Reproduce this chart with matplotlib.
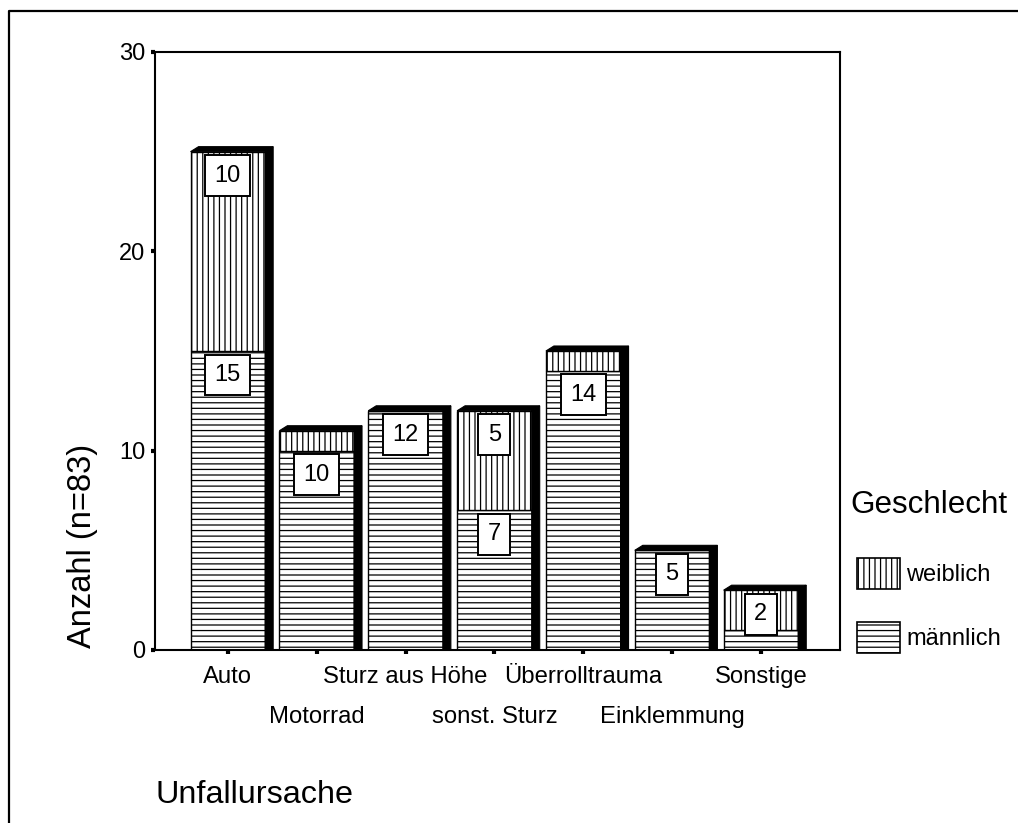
import matplotlib
matplotlib.use("Agg")
import matplotlib.pyplot as plt
from matplotlib.patches import Polygon, Rectangle
from matplotlib.lines import Line2D
import matplotlib.transforms as mtransforms

plt.rcParams['font.family'] = ['Liberation Sans', 'DejaVu Sans']
plt.rcParams['hatch.linewidth'] = 0.9

categories = ["Auto", "Motorrad", "Sturz aus Höhe", "sonst. Sturz",
              "Überrolltrauma", "Einklemmung", "Sonstige"]
maennlich = [15, 10, 12, 7, 14, 5, 1]
weiblich = [10, 1, 0, 5, 1, 0, 2]
# which segment values get a label box (None = no label)
label_m = [15, 10, 12, 7, 14, 5, None]
label_w = [10, None, None, 5, None, None, 2]
yticks = [0, 10, 20, 30]

W, H = 1018, 823
fig = plt.figure(figsize=(W / 100, H / 100), dpi=100)
ax = fig.add_axes([155 / W, 1 - 650 / H, (840 - 155) / W, (650 - 52) / H])

xlim = (-0.82, 6.89)
ylim = (0, 30)
ax.set_xlim(*xlim)
ax.set_ylim(*ylim)

bw = 0.84
x = list(range(len(categories)))

ax.bar(x, maennlich, width=bw, color='white', edgecolor='black',
       hatch='---', linewidth=1.0, zorder=2)
ax.bar(x, weiblich, width=bw, bottom=maennlich, color='white',
       edgecolor='black', hatch='|||', linewidth=1.0, zorder=2)

# pseudo-3D shadow
ax_w_px = (840 - 155)
ax_h_px = (650 - 52)
ux = (xlim[1] - xlim[0]) / ax_w_px
uy = (ylim[1] - ylim[0]) / ax_h_px
dx = 8 * ux
dy = 5 * uy
for xi, m, f in zip(x, maennlich, weiblich):
    top = m + f
    x0 = xi - bw / 2
    x1 = xi + bw / 2
    side = Polygon([(x1, 0), (x1, top), (x1 + dx, top + dy), (x1 + dx, 0)],
                   closed=True, facecolor='black', edgecolor='black',
                   linewidth=0.8, zorder=3)
    topf = Polygon([(x0, top), (x0 + dx, top + dy), (x1 + dx, top + dy), (x1, top)],
                   closed=True, facecolor='black', edgecolor='black',
                   linewidth=0.8, zorder=3)
    ax.add_patch(side)
    ax.add_patch(topf)

# label boxes
def box(xi, ytop, txt):
    ax.annotate(str(txt), xy=(xi, ytop), xytext=(0, -13),
                textcoords='offset pixels', ha='center', va='top',
                fontsize=17, zorder=5,
                bbox=dict(boxstyle='square,pad=0.4', fc='white', ec='black', lw=1.4))

for xi, m, f, lm, lw in zip(x, maennlich, weiblich, label_m, label_w):
    if lm is not None:
        box(xi, m, lm)
    if lw is not None:
        box(xi, m + f, lw)

# axes styling
for s in ax.spines.values():
    s.set_linewidth(1.5)
ax.set_yticks(yticks)
ax.set_yticklabels([str(v) for v in yticks], fontsize=17)
ax.tick_params(axis='y', direction='out', length=3, width=3, pad=4)
ax.set_xticks(x)
ax.set_xticklabels([''] * len(x))
ax.tick_params(axis='x', direction='out', length=3, width=3, pad=2)

trans = mtransforms.blended_transform_factory(ax.transData, ax.transAxes)
for i, (xi, c) in enumerate(zip(x, categories)):
    yy = -27 / ax_h_px if i % 2 == 0 else -67 / ax_h_px
    ax.text(xi, yy, c, transform=trans, ha='center', va='center', fontsize=17.2)

fig.text(82 / W, 1 - 546 / H, 'Anzahl (n=83)', rotation=90, ha='center',
         va='center', fontsize=23.5)
fig.text(155 / W, 1 - 795 / H, 'Unfallursache', ha='left', va='center', fontsize=23.3)
fig.text(850 / W, 1 - 505 / H, 'Geschlecht', ha='left', va='center', fontsize=22.6)

# legend
legend_items = [('weiblich', '|||', 558), ('männlich', '---', 622)]
for lab, hatch, ytop in legend_items:
    r = Rectangle((857 / W, 1 - (ytop + 31) / H), 43 / W, 31 / H,
                  transform=fig.transFigure, facecolor='white', edgecolor='black',
                  hatch=hatch, linewidth=1.2)
    fig.add_artist(r)
    fig.text(906 / W, 1 - (ytop + 17) / H, lab, ha='left', va='center', fontsize=17)

# outer frame (left and top visible)
fig.add_artist(Line2D([9 / W, 9 / W, 1.0], [0.0, 1 - 11 / H, 1 - 11 / H],
                      transform=fig.transFigure, color='black', linewidth=1.6))

fig.savefig('out.png', dpi=100)
